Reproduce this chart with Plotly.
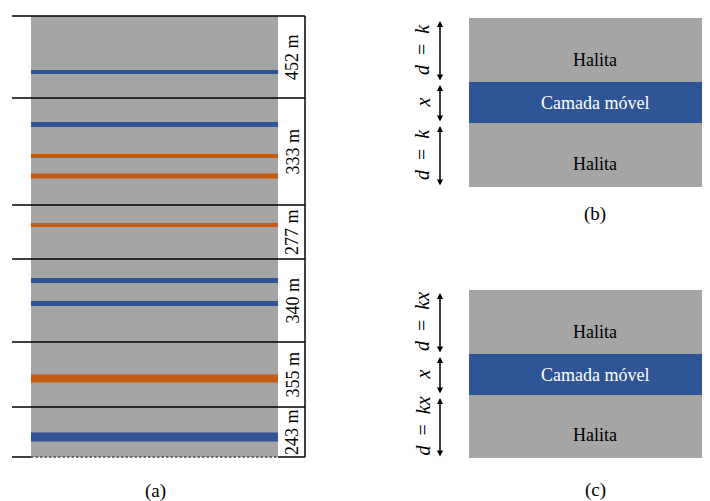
import plotly.graph_objects as go

# ---------------- data ----------------
# Panel (a): section boundaries (depth units, top -> bottom) and labels
section_bounds = [16, 98, 205, 259, 342, 407, 457]
section_labels = ["452 m", "333 m", "277 m", "340 m", "355 m", "243 m"]
# mobile layers inside the column: centre depth, thickness, type
layer_depth = [72, 124.5, 156, 176, 225, 280.5, 303.5, 378.5, 437]
layer_thick = [4, 5, 4, 5, 4, 5, 5, 8, 9]
layer_type = ["blue", "blue", "orange", "orange", "orange", "blue", "blue", "orange", "blue"]

# Panels (b) and (c): halite / mobile layer / halite bands
b_bands = [18, 82, 123, 187]
c_bands = [290, 354, 395, 458]
NB = "\u00a0\u00a0"
b_dim_labels = [f"<i>d</i>{NB}={NB}<i>k</i>", "<i>x</i>", f"<i>d</i>{NB}={NB}<i>k</i>"]
c_dim_labels = [f"<i>d</i>{NB}={NB}<i>kx</i>", "<i>x</i>", f"<i>d</i>{NB}={NB}<i>kx</i>"]
band_names = ["Halita", "Camada móvel", "Halita"]
panel_letters = ["(a)", "(b)", "(c)"]

GRAY = "#A5A5A5"
BLUE = "#2F5597"
ORANGE = "#C55A11"
FONT = "Liberation Serif"
colors = {"blue": BLUE, "orange": ORANGE}

fig = go.Figure()
shapes = []
ann = []

# ---------- panel (a) ----------
colL, colR, lineL, lineR = 31, 278, 12, 305
shapes.append(dict(type="rect", x0=colL, x1=colR, y0=section_bounds[0], y1=section_bounds[-1],
                   fillcolor=GRAY, line_width=0, layer="below"))
for d, t, ty in zip(layer_depth, layer_thick, layer_type):
    shapes.append(dict(type="rect", x0=colL, x1=colR, y0=d - t / 2, y1=d + t / 2,
                       fillcolor=colors[ty], line_width=0))
for yb in section_bounds[:-1]:
    shapes.append(dict(type="line", x0=lineL, x1=lineR, y0=yb, y1=yb,
                       line=dict(color="black", width=1.5)))
yb = section_bounds[-1]
shapes.append(dict(type="line", x0=lineL, x1=colL, y0=yb, y1=yb, line=dict(color="black", width=1.5)))
shapes.append(dict(type="line", x0=colL, x1=colR, y0=yb, y1=yb,
                   line=dict(color="#4a4a4a", width=1.5, dash="2.5px,2px")))
shapes.append(dict(type="line", x0=colR, x1=lineR, y0=yb, y1=yb, line=dict(color="black", width=1.5)))
shapes.append(dict(type="line", x0=lineR, x1=lineR, y0=section_bounds[0], y1=section_bounds[-1],
                   line=dict(color="black", width=1.5)))
for i, lab in enumerate(section_labels):
    ym = (section_bounds[i] + section_bounds[i + 1]) / 2
    ann.append(dict(x=292, y=ym, text=lab, showarrow=False, textangle=-90,
                    font=dict(family=FONT, size=18, color="black")))
ann.append(dict(x=155, y=491, text=panel_letters[0], showarrow=False,
                font=dict(family=FONT, size=19, color="black")))

# ---------- panels (b) and (c) ----------
def side_panel(bands, dims, letter, letter_y):
    x0, x1, xa, xl, xc = 469, 711, 440, 422, 595
    text_shift = [9.5, 0.5, 8.5]
    for i in range(3):
        shapes.append(dict(type="rect", x0=x0, x1=x1, y0=bands[i], y1=bands[i + 1],
                           fillcolor=BLUE if i == 1 else GRAY, line_width=0))
        ym = (bands[i] + bands[i + 1]) / 2
        ann.append(dict(x=xc, y=ym + text_shift[i], text=band_names[i], showarrow=False,
                        font=dict(family=FONT, size=18, color="white" if i == 1 else "black")))
        ya, yb_ = bands[i] + 1.5, bands[i + 1] - 1.5
        ann.append(dict(x=xa, y=yb_, ax=xa, ay=ya, xref="x", yref="y", axref="x", ayref="y",
                        text="", showarrow=True, arrowhead=2, startarrowhead=2,
                        arrowside="end+start", arrowsize=0.8, arrowwidth=1.5, arrowcolor="black"))
        ann.append(dict(x=xl, y=ym, text=dims[i], showarrow=False, textangle=-90,
                        font=dict(family=FONT, size=20, color="black")))
    ann.append(dict(x=xc, y=letter_y, text=letter, showarrow=False,
                    font=dict(family=FONT, size=19, color="black")))

side_panel(b_bands, b_dim_labels, panel_letters[1], 214)
side_panel(c_bands, c_dim_labels, panel_letters[2], 490)

# The page body has an 8 px margin: size the figure and ranges so that
# one axis unit equals one pixel of the 710x501 window.
OFF = 8
fig.update_layout(
    width=710 - OFF, height=501 - OFF, margin=dict(l=0, r=0, t=0, b=0),
    paper_bgcolor="white", plot_bgcolor="white",
    xaxis=dict(range=[OFF, 710], visible=False, fixedrange=True),
    yaxis=dict(range=[501, OFF], visible=False, fixedrange=True),
    shapes=shapes, annotations=ann, showlegend=False,
)
fig.write_html("out.html")
